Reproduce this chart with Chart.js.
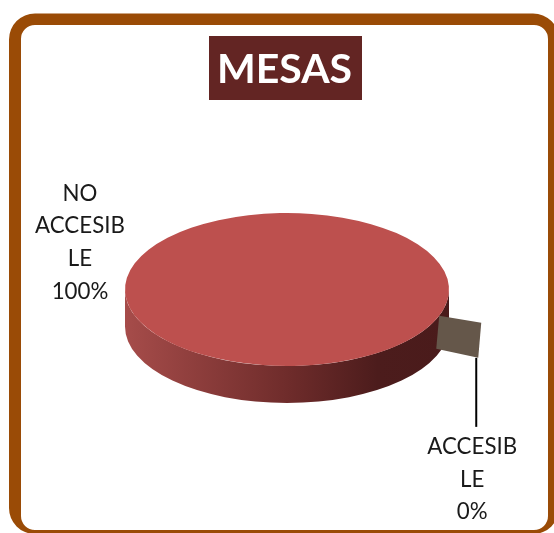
<!DOCTYPE html>
<html lang="es">
<head>
    <meta charset="UTF-8">
    <title>MESAS</title>
    <script src="https://cdn.jsdelivr.net/npm/chart.js"></script>
    <style>
        body, html {
            margin: 0;
            padding: 0;
            background: #fff;
            overflow: hidden;
        }
        canvas { display: block; }
    </style>
</head>
<body>
    <canvas id="mesasChart" width="554" height="533"></canvas>

    <script>
        const categories = ['NO ACCESIBLE', 'ACCESIBLE'];
        const values = [100, 0];
        const sliceColors = ['#BD504E', '#65574A'];

        const squash = 0.472;   // flattens the pie into an ellipse
        const depth = 37;       // height of the 3D wall
        const labelFont = '22.3px Lato';

        // split the way the original wraps: words, then 7 letters max
        function wrapLabel(text) {
            const lines = [];
            text.split(' ').forEach(word => {
                for (let i = 0; i < word.length; i += 7) lines.push(word.slice(i, i + 7));
            });
            return lines;
        }

        const framePlugin = {
            id: 'frame',
            afterLayout(chart) {
                // title box sits a little left of the pie centre
                chart.titleBlock.left -= 2.5;
                chart.titleBlock.right -= 2.5;
            },
            beforeDraw(chart) {
                const ctx = chart.ctx;
                ctx.save();
                ctx.fillStyle = '#9A4B06';
                ctx.beginPath();
                ctx.roundRect(9, 13.4, 550, 520.6, 26);
                ctx.roundRect(21, 25, 527, 505, 14);
                ctx.fill('evenodd');
                ctx.fillStyle = '#632523';
                ctx.fillRect(209, 36, 153, 64);
                ctx.restore();
            }
        };

        const pie3dPlugin = {
            id: 'pie3d',
            beforeDatasetsDraw(chart) {
                const ctx = chart.ctx;
                const meta = chart.getDatasetMeta(0);
                const { x, y, outerRadius: r } = meta.data[0];
                const ry = r * squash;

                // wall below the top face
                const wall = ctx.createLinearGradient(x - r, 0, x + r, 0);
                wall.addColorStop(0, '#A64C4A');
                wall.addColorStop(0.5, '#6F2C2B');
                wall.addColorStop(0.78, '#4C1C1C');
                wall.addColorStop(1, '#4A1B1B');
                ctx.save();
                ctx.fillStyle = wall;
                ctx.beginPath();
                ctx.ellipse(x, y, r, ry, 0, 0, Math.PI);
                ctx.ellipse(x, y + depth, r, ry, 0, Math.PI, 0, true);
                ctx.closePath();
                ctx.fill();
                ctx.restore();

                // library draws the arcs flattened
                ctx.save();
                ctx.translate(x, y);
                ctx.scale(1, squash);
                ctx.translate(-x, -y);
            },
            afterDatasetsDraw(chart) {
                const ctx = chart.ctx;
                ctx.restore();

                const meta = chart.getDatasetMeta(0);
                const { x, y, outerRadius: r } = meta.data[0];
                const ry = r * squash;

                // the 0% slice only shows its cut face, pulled out of the rim
                const a = meta.data[1].startAngle;
                const pull = 1.276;
                const x0 = x + r * Math.cos(a), y0 = y + ry * Math.sin(a);
                const x1 = x + r * pull * Math.cos(a), y1 = y + ry * pull * Math.sin(a);
                ctx.save();
                ctx.fillStyle = sliceColors[1];
                ctx.beginPath();
                ctx.moveTo(x0, y0);
                ctx.lineTo(x1, y1);
                ctx.lineTo(x1 - 3, y1 + 35);
                ctx.lineTo(x0 - 3, y0 + 33);
                ctx.closePath();
                ctx.fill();

                // leader line
                ctx.strokeStyle = '#000';
                ctx.lineWidth = 2;
                ctx.beginPath();
                ctx.moveTo(x1 - 5, y1 + 35);
                ctx.lineTo(x1 - 5, y1 + 104);
                ctx.stroke();

                // labels
                ctx.fillStyle = '#1a1a1a';
                ctx.font = labelFont;
                ctx.textAlign = 'center';
                ctx.textBaseline = 'middle';
                const anchors = [[x - 207, y - 96], [x1 - 9, y1 + 124]];
                categories.forEach((name, i) => {
                    const lines = wrapLabel(name).concat(values[i] + '%');
                    lines.forEach((line, n) => {
                        ctx.fillText(line, anchors[i][0], anchors[i][1] + n * 32.7);
                    });
                });
                ctx.restore();
            }
        };

        new Chart(document.getElementById('mesasChart').getContext('2d'), {
            type: 'pie',
            data: {
                labels: categories,
                datasets: [{
                    data: values,
                    backgroundColor: sliceColors,
                    borderWidth: 0
                }]
            },
            options: {
                responsive: false,
                animation: false,
                rotation: 110,
                layout: { padding: { left: 125, right: 105, top: 0, bottom: 81.5 } },
                plugins: {
                    legend: { display: false },
                    tooltip: { enabled: false },
                    title: {
                        display: true,
                        text: 'MESAS',
                        color: '#ffffff',
                        font: { family: 'Lato', size: 41, weight: 'bold', lineHeight: 64 / 41 },
                        padding: { top: 38, bottom: 25.5 }
                    }
                }
            },
            plugins: [framePlugin, pie3dPlugin]
        });
    </script>
</body>
</html>
